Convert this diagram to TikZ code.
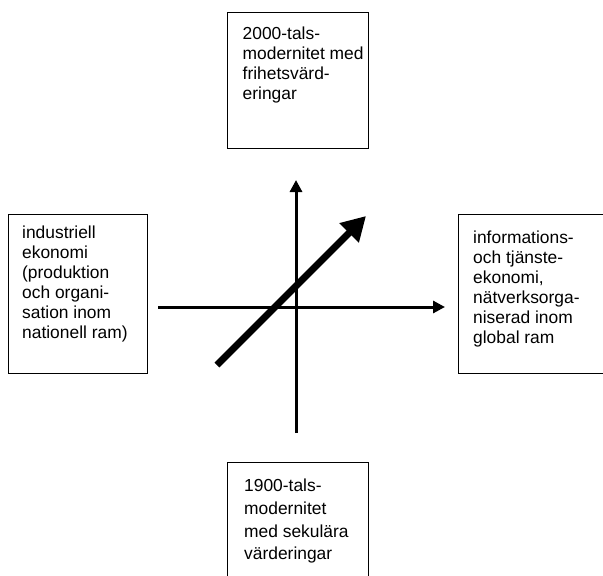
\documentclass[tikz,border=0pt]{standalone}
\usepackage{fontspec}
\setmainfont{Liberation Sans}
\usetikzlibrary{arrows.meta}
\tikzset{
  box/.style={draw=black, line width=1pt, rectangle, anchor=north west, inner sep=0pt, fill=white},
  label/.style={anchor=north west, inner sep=0pt, align=left, font=\fontsize{17.4}{20}\selectfont},
  labelwide/.style={anchor=north west, inner sep=0pt, align=left, font=\fontsize{17.4}{22.7}\selectfont},
  axis/.style={line width=3pt, -{Triangle[length=12pt,width=12pt]}},
  axisplain/.style={line width=3pt},
  bigarrow/.style={line width=7pt, -{Triangle[length=24pt,width=26pt]}}
}
\begin{document}
\begin{tikzpicture}[x=1pt,y=-1pt]
\useasboundingbox (0,0) rectangle (603,576);
\clip (0,0) rectangle (603,576);
% boxes
\node[box, minimum width=141pt, minimum height=136pt] (topbox) at (227,12) {};
\node[box, minimum width=139pt, minimum height=159pt] (leftbox) at (8,214) {};
\node[box, minimum width=170pt, minimum height=159pt] (rightbox) at (458,214) {};
\node[box, minimum width=141pt, minimum height=140pt] (bottombox) at (227,462) {};
% texts
\node[label] (toptext) at (242.5,27) {2000-tals-\\modernitet med\\frihetsvärd-\\eringar};
\node[label] (lefttext) at (22,226) {industriell\\ekonomi\\(produktion\\och organi-\\sation inom\\nationell ram)};
\node[label] (righttext) at (473,231) {informations-\\och tjänste-\\ekonomi,\\nätverksorga-\\niserad inom\\global ram};
\node[labelwide] (bottomtext) at (244,479) {1900-tals-\\modernitet\\med sekulära\\värderingar};
% axes
\coordinate (hstart) at (158,307);
\coordinate (hend) at (445,307);
\coordinate (vstart) at (296,433);
\coordinate (vend) at (296,180);
\coordinate (dstart) at (217,365);
\coordinate (dend) at (366,216);
\draw[axis] (hstart) -- (hend);
\draw[axis] (vstart) -- (vend);
\draw[bigarrow] (dstart) -- (dend);
\end{tikzpicture}
\end{document}
